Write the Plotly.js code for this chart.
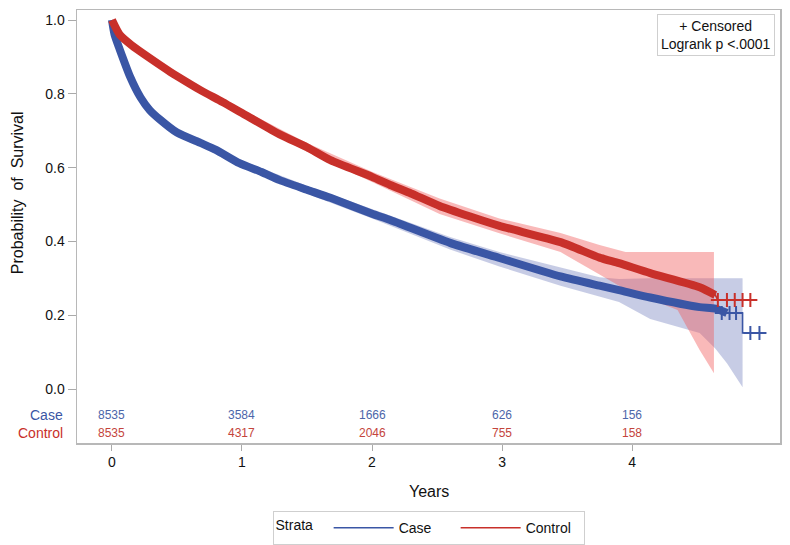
<!DOCTYPE html>
<html>
<head>
<meta charset="utf-8">
<script src="https://cdn.plot.ly/plotly-3.0.1.min.js"></script>
<style>html,body{margin:0;padding:0;background:#fff}#chart{width:790px;height:545px}</style>
</head>
<body>
<div id="chart"></div>
<script>
// ---- Kaplan-Meier estimates (years, survival) ----
const caseT = [0, 0.02, 0.06, 0.14, 0.22, 0.29, 0.37, 0.5, 0.68, 0.8, 0.98, 1.15, 1.29, 1.5, 1.68, 2.0, 2.14, 2.6, 2.98, 3.45, 3.75, 3.9, 4.14, 4.52, 4.64, 4.73, 4.85, 4.85, 5.0];
const caseS = [1.0, 0.96, 0.92, 0.846, 0.79, 0.756, 0.73, 0.695, 0.667, 0.648, 0.612, 0.588, 0.566, 0.54, 0.518, 0.475, 0.458, 0.396, 0.355, 0.305, 0.28, 0.268, 0.248, 0.222, 0.218, 0.206, 0.206, 0.152, 0.152];
const ctrlT = [0, 0.06, 0.15, 0.29, 0.45, 0.5, 0.68, 0.85, 1.0, 1.29, 1.5, 1.68, 2.0, 2.14, 2.3, 2.52, 2.75, 2.98, 3.45, 3.75, 3.9, 4.14, 4.52, 4.64, 4.66, 4.92];
const ctrlS = [1.0, 0.96, 0.932, 0.897, 0.859, 0.848, 0.81, 0.778, 0.748, 0.69, 0.655, 0.62, 0.575, 0.553, 0.53, 0.496, 0.468, 0.442, 0.398, 0.356, 0.341, 0.314, 0.276, 0.255, 0.241, 0.241];

// ---- 95% confidence bands ----
const caseBandT = [0, 0.06, 0.14, 0.22, 0.37, 0.5, 0.68, 0.98, 1.5, 2.0, 2.6, 2.98, 3.45, 3.75, 3.9, 4.14, 4.52, 4.64, 4.73, 4.85];
const caseUpper = [1.0, 0.928, 0.854, 0.798, 0.739, 0.704, 0.676, 0.622, 0.551, 0.488, 0.412, 0.371, 0.33, 0.303, 0.298, 0.30, 0.30, 0.30, 0.30, 0.30];
const caseLower = [1.0, 0.912, 0.838, 0.782, 0.721, 0.686, 0.658, 0.602, 0.529, 0.462, 0.378, 0.332, 0.28, 0.25, 0.236, 0.19, 0.152, 0.11, 0.07, 0.005];
const ctrlBandT = [0, 0.06, 0.29, 0.5, 0.68, 1.0, 1.5, 2.0, 2.52, 2.98, 3.45, 3.75, 3.95, 4.35, 4.52, 4.63];
const ctrlUpper = [1.0, 0.968, 0.906, 0.858, 0.82, 0.758, 0.667, 0.589, 0.516, 0.462, 0.423, 0.39, 0.371, 0.371, 0.371, 0.371];
const ctrlLower = [1.0, 0.952, 0.888, 0.838, 0.80, 0.738, 0.643, 0.561, 0.474, 0.422, 0.371, 0.31, 0.27, 0.214, 0.106, 0.043];

// ---- censored observations visible in the tail ----
const caseCensT = [4.69, 4.75, 4.80, 4.91, 4.98];
const caseCensS = [0.206, 0.206, 0.206, 0.152, 0.152];
const ctrlCensT = [4.66, 4.73, 4.79, 4.85, 4.91];
const ctrlCensS = [0.241, 0.241, 0.241, 0.241, 0.241];

// ---- number at risk ----
const riskTimes = [0, 1, 2, 3, 4];
const riskCase = [8535, 3584, 1666, 626, 156];
const riskCtrl = [8535, 4317, 2046, 755, 158];
const groups = ["Case", "Control"];

const BLUE = "#3A56A5", RED = "#C8302A";
const FONT = "Liberation Sans, Arial, sans-serif";
const NARROW = "Liberation Sans Narrow, Arial Narrow, " + FONT;

function cut(T, S, lim){ const x=[],y=[]; T.forEach((t,i)=>{ if(t<=lim){x.push(t);y.push(S[i]);} }); return {x,y}; }
const caseThick = cut(caseT, caseS, 4.76);
const ctrlThick = cut(ctrlT, ctrlS, 4.65);

const traces = [
  {x: caseBandT, y: caseUpper, mode: "lines", line: {width: 0}, showlegend: false, hoverinfo: "skip"},
  {x: caseBandT, y: caseLower, mode: "lines", line: {width: 0}, fill: "tonexty", fillcolor: "rgba(68,86,170,0.30)", showlegend: false, hoverinfo: "skip"},
  {x: ctrlBandT, y: ctrlUpper, mode: "lines", line: {width: 0}, showlegend: false, hoverinfo: "skip"},
  {x: ctrlBandT, y: ctrlLower, mode: "lines", line: {width: 0}, fill: "tonexty", fillcolor: "rgba(240,89,89,0.42)", showlegend: false, hoverinfo: "skip"},
  {x: caseT, y: caseS, mode: "lines", name: groups[0], line: {color: BLUE, width: 1.6}},
  {x: ctrlT, y: ctrlS, mode: "lines", name: groups[1], line: {color: RED, width: 1.6}},
  {x: caseThick.x, y: caseThick.y, mode: "lines", line: {color: BLUE, width: 8, shape: "spline", smoothing: 0.6}, showlegend: false},
  {x: ctrlThick.x, y: ctrlThick.y, mode: "lines", line: {color: RED, width: 8, shape: "spline", smoothing: 0.6}, showlegend: false},
  {x: caseCensT, y: caseCensS, mode: "markers", showlegend: false, marker: {symbol: "cross-thin", size: 10, line: {width: 2, color: BLUE}}},
  {x: ctrlCensT, y: ctrlCensS, mode: "markers", showlegend: false, marker: {symbol: "cross-thin", size: 10, line: {width: 2, color: RED}}}
];

const annotations = [];
riskTimes.forEach((t, i) => {
  annotations.push({x: t, y: -0.0705, xref: "x", yref: "y", xanchor: "center", yanchor: "middle", text: String(riskCase[i]), showarrow: false,
    font: {family: NARROW, size: 12, color: "#4C66AA"}});
  annotations.push({x: t, y: -0.119, xref: "x", yref: "y", xanchor: "center", yanchor: "middle", text: String(riskCtrl[i]), showarrow: false,
    font: {family: NARROW, size: 12, color: "#C4443C"}});
});
annotations.push({x: -0.017, y: -0.0705, xref: "paper", yref: "y", xanchor: "right", yanchor: "middle", text: groups[0], showarrow: false,
  font: {family: FONT, size: 14, color: BLUE}});
annotations.push({x: -0.017, y: -0.119, xref: "paper", yref: "y", xanchor: "right", yanchor: "middle", text: groups[1], showarrow: false,
  font: {family: FONT, size: 14, color: RED}});
annotations.push({x: 0.993, y: 0.991, xref: "paper", yref: "paper", xanchor: "right", yanchor: "top",
  text: "+ Censored<br>Logrank p <.0001", showarrow: false, align: "center",
  bordercolor: "#cfcfcf", borderwidth: 1, borderpad: 3, bgcolor: "#fff",
  font: {family: FONT, size: 14, color: "#111"}});
annotations.push({x: -0.0853, y: 0.577, xref: "paper", yref: "paper", xanchor: "center", yanchor: "middle",
  text: "Probability  of  Survival", textangle: -90,
  showarrow: false, font: {family: FONT, size: 16, color: "#111"}});
annotations.push({x: 0.5, y: -0.113, xref: "paper", yref: "paper", xanchor: "center", yanchor: "middle", text: "Years", showarrow: false,
  font: {family: FONT, size: 16, color: "#111"}});

const layout = {
  width: 790, height: 545,
  margin: {l: 77, r: 10, t: 10, b: 102},
  paper_bgcolor: "#fff", plot_bgcolor: "#fff",
  font: {family: FONT, color: "#111"},
  xaxis: {range: [-0.269, 5.138], tickvals: riskTimes, ticks: "outside", ticklen: 6, tickcolor: "#aaaaaa",
    showline: true, mirror: true, linecolor: "#b8b8b8", linewidth: 1.5, showgrid: false, zeroline: false, automargin: false,
    tickfont: {family: FONT, size: 14, color: "#111"}},
  yaxis: {range: [-0.1463, 1.0271], tickvals: [0, 0.2, 0.4, 0.6, 0.8, 1.0],
    ticktext: ["0.0", "0.2", "0.4", "0.6", "0.8", "1.0"], ticks: "outside", ticklen: 8, tickcolor: "#aaaaaa",
    showline: true, mirror: true, linecolor: "#b8b8b8", linewidth: 1.5, showgrid: false, zeroline: false, automargin: false,
    tickfont: {family: FONT, size: 14, color: "#111"}},
  showlegend: true,
  legend: {orientation: "h", x: 0.5, xanchor: "center", xref: "paper", yref: "container", y: 0.062, yanchor: "top",
    traceorder: "normal", valign: "middle",
    title: {text: "Strata  ", side: "left", font: {family: FONT, size: 14}},
    bordercolor: "#cfcfcf", borderwidth: 1, bgcolor: "#fff", itemwidth: 60,
    entrywidth: 52, entrywidthmode: "pixels",
    font: {family: FONT, size: 14, color: "#111"}},
  annotations: annotations
};

Plotly.newPlot("chart", traces, layout, {staticPlot: true, displayModeBar: false});
</script>
</body>
</html>
